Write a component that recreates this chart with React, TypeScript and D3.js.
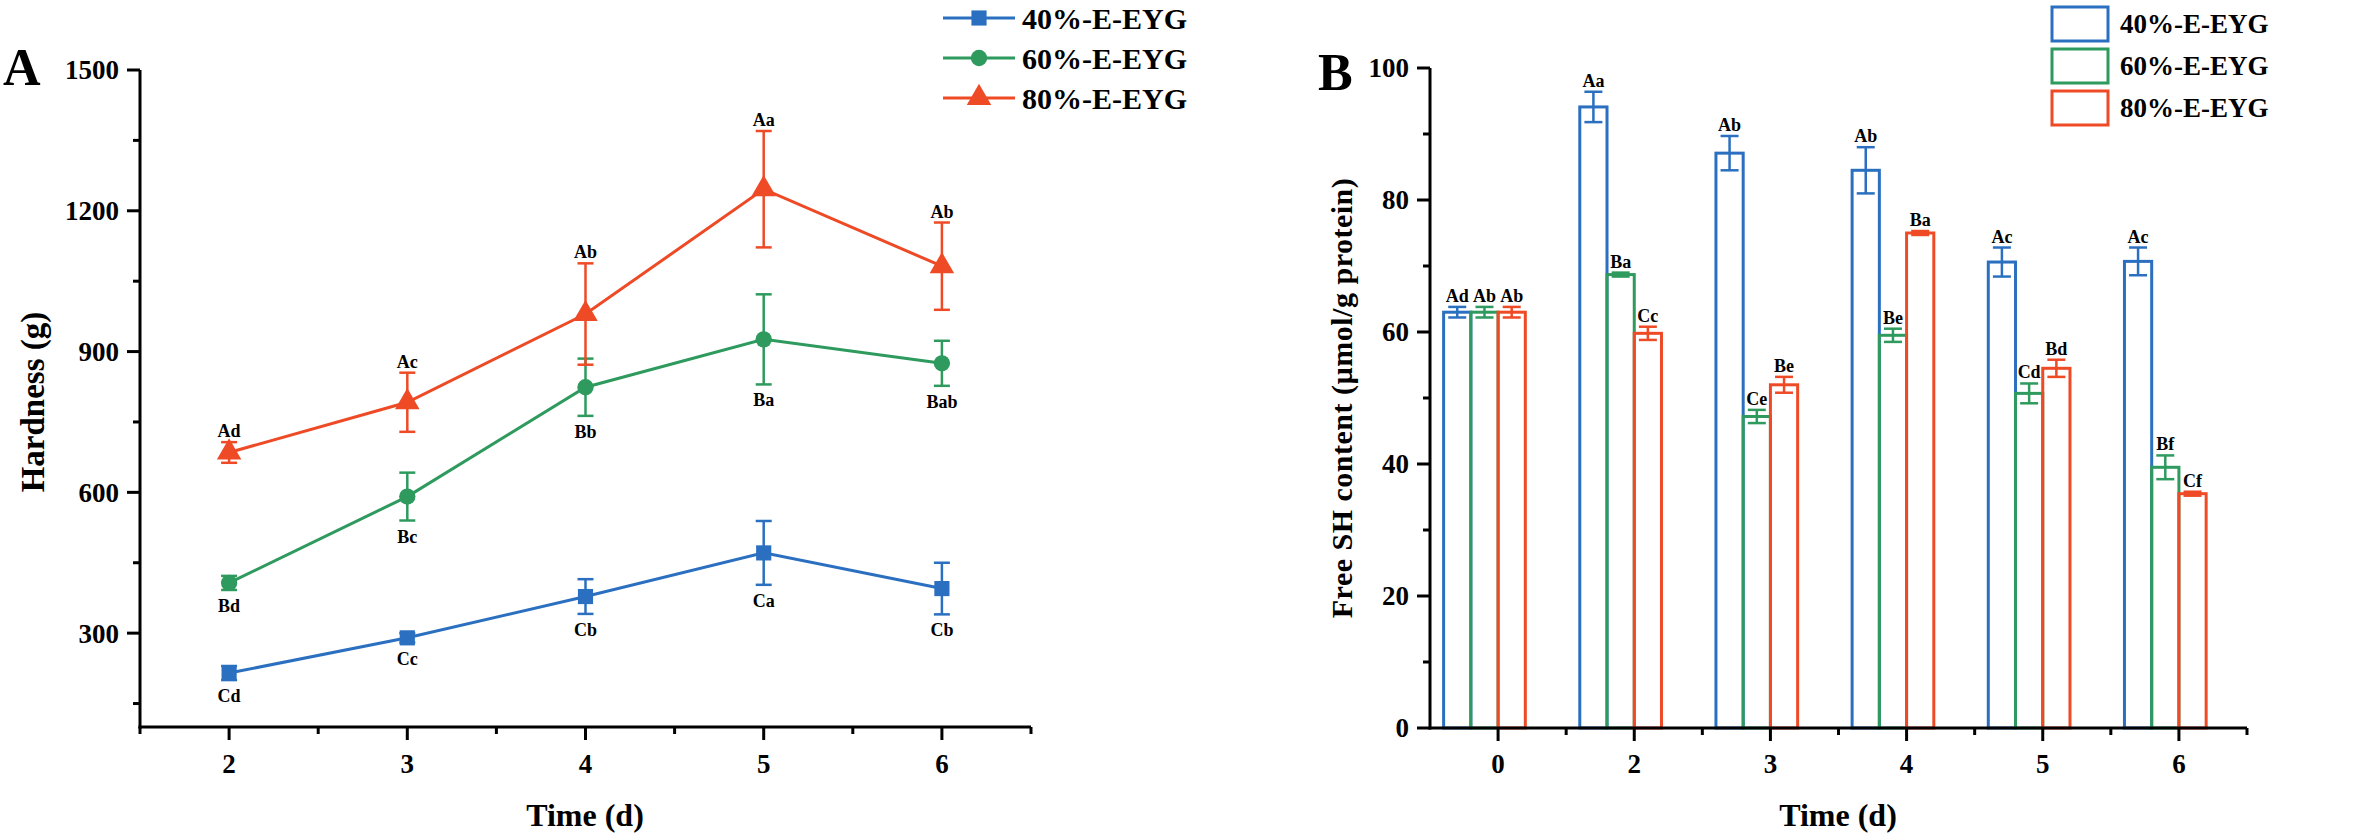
import React from "react";
import * as d3 from "d3";

// ---------- Data: Panel A (Hardness) ----------
const daysA = [2, 3, 4, 5, 6];
const seriesNames = ["40%-E-EYG", "60%-E-EYG", "80%-E-EYG"];
const hard40 = [215, 290, 378, 471, 395];
const hard40Err = [15, 10, 37, 68, 55];
const hard60 = [407, 591, 824, 926, 875];
const hard60Err = [15, 51, 61, 96, 48];
const hard80 = [685, 792, 980, 1246, 1082];
const hard80Err = [22, 63, 108, 124, 93];
const sig40A = ["Cd", "Cc", "Cb", "Ca", "Cb"];
const sig60A = ["Bd", "Bc", "Bb", "Ba", "Bab"];
const sig80A = ["Ad", "Ac", "Ab", "Aa", "Ab"];
const yTicksA = [300, 600, 900, 1200, 1500];

// ---------- Data: Panel B (Free SH) ----------
const daysB = ["0", "2", "3", "4", "5", "6"];
const sh40 = [63.0, 94.1, 87.1, 84.5, 70.6, 70.7];
const sh40Err = [0.8, 2.3, 2.6, 3.5, 2.2, 2.1];
const sh60 = [63.0, 68.7, 47.2, 59.5, 50.7, 39.5];
const sh60Err = [0.8, 0.3, 1.0, 1.0, 1.5, 1.8];
const sh80 = [63.0, 59.8, 52.0, 75.0, 54.5, 35.5];
const sh80Err = [0.8, 1.0, 1.2, 0.3, 1.3, 0.3];
const sig40B = ["Ad", "Aa", "Ab", "Ab", "Ac", "Ac"];
const sig60B = ["Ab", "Ba", "Ce", "Be", "Cd", "Bf"];
const sig80B = ["Ab", "Cc", "Be", "Ba", "Bd", "Cf"];
const yTicksB = [0, 20, 40, 60, 80, 100];

const COLORS = ["#2b70c0", "#2e9a5e", "#ef4a26"];
const FONT = "'Liberation Serif', 'Times New Roman', serif";

export default function App() {
  // Panel A scales
  const xA = d3.scaleLinear().domain([1.5, 6.5]).range([140, 1031]);
  const yA = d3.scaleLinear().domain([100, 1500]).range([727, 70]);
  const minorA = d3.range(150, 1500, 300);
  const xMinorA = d3.range(1.5, 7, 0.5).filter((v) => !Number.isInteger(v));

  const vals = [hard40, hard60, hard80];
  const errs = [hard40Err, hard60Err, hard80Err];
  const sigsA = [sig40A, sig60A, sig80A];
  const symbols = [d3.symbolSquare, d3.symbolCircle, d3.symbolTriangle];
  const symSizes = [230, 210, 260];
  const line = d3
    .line<number>()
    .x((_, i) => xA(daysA[i]))
    .y((d) => yA(d));

  // Panel B scales
  const xB = d3.scaleBand<string>().domain(daysB).range([1430, 2247]).padding(0);
  const bw = xB.bandwidth();
  const barW = bw * 0.2;
  const yB = d3.scaleLinear().domain([0, 100]).range([728, 68]);
  const minorB = d3.range(10, 100, 20);
  const valsB = [sh40, sh60, sh80];
  const errsB = [sh40Err, sh60Err, sh80Err];
  const sigsB = [sig40B, sig60B, sig80B];

  const cap = 8;

  return (
    <svg
      width={2368}
      height={837}
      style={{ position: "absolute", left: 0, top: 0, background: "#fff" }}
      fontFamily={FONT}
    >
      <rect x={0} y={0} width={2368} height={837} fill="#fff" />
      {/* ================= Panel A ================= */}
      <text x={3} y={85} fontSize={52} fontWeight="bold">A</text>
      {/* axes */}
      <line x1={140} y1={yA(1500)} x2={140} y2={728.5} stroke="#000" strokeWidth={3} />
      <line x1={138.5} y1={727} x2={1031} y2={727} stroke="#000" strokeWidth={3} />
      {yTicksA.map((t) => (
        <g key={"ya" + t}>
          <line x1={127} x2={140} y1={yA(t)} y2={yA(t)} stroke="#000" strokeWidth={3} />
          <text x={119} y={yA(t)} dy="0.35em" textAnchor="end" fontSize={27} fontWeight="bold">
            {t}
          </text>
        </g>
      ))}
      {minorA.map((t) => (
        <line key={"yam" + t} x1={133} x2={140} y1={yA(t)} y2={yA(t)} stroke="#000" strokeWidth={3} />
      ))}
      {daysA.map((d) => (
        <g key={"xa" + d}>
          <line x1={xA(d)} x2={xA(d)} y1={727} y2={740} stroke="#000" strokeWidth={3} />
          <text x={xA(d)} y={773} textAnchor="middle" fontSize={27} fontWeight="bold">
            {d}
          </text>
        </g>
      ))}
      {xMinorA.map((d) => (
        <line key={"xam" + d} x1={xA(d)} x2={xA(d)} y1={727} y2={734} stroke="#000" strokeWidth={3} />
      ))}
      <text x={585} y={826} textAnchor="middle" fontSize={32} fontWeight="bold">Time (d)</text>
      <text
        transform={`translate(44,402) rotate(-90)`}
        textAnchor="middle"
        fontSize={33}
        fontWeight="bold"
      >
        Hardness (g)
      </text>

      {/* series */}
      {vals.map((v, s) => (
        <g key={"sa" + s}>
          <path d={line(v) || ""} fill="none" stroke={COLORS[s]} strokeWidth={3} />
          {v.map((val, i) => {
            const x = xA(daysA[i]);
            const yt = yA(val + errs[s][i]);
            const yb = yA(val - errs[s][i]);
            return (
              <g key={i}>
                <line x1={x} x2={x} y1={yt} y2={yb} stroke={COLORS[s]} strokeWidth={2.5} />
                <line x1={x - cap} x2={x + cap} y1={yt} y2={yt} stroke={COLORS[s]} strokeWidth={2.5} />
                <line x1={x - cap} x2={x + cap} y1={yb} y2={yb} stroke={COLORS[s]} strokeWidth={2.5} />
                <path
                  transform={`translate(${x},${yA(val)})`}
                  d={d3.symbol().type(symbols[s]).size(symSizes[s])() || ""}
                  fill={COLORS[s]}
                />
                <text
                  x={x}
                  y={s === 2 ? yt - 5 : yb + 22}
                  textAnchor="middle"
                  fontSize={18}
                  fontWeight="bold"
                >
                  {sigsA[s][i]}
                </text>
              </g>
            );
          })}
        </g>
      ))}

      {/* legend A */}
      {seriesNames.map((n, s) => {
        const y = 18 + s * 40;
        return (
          <g key={"la" + s}>
            <line x1={943} x2={1015} y1={y} y2={y} stroke={COLORS[s]} strokeWidth={3} />
            <path
              transform={`translate(979,${y})`}
              d={d3.symbol().type(symbols[s]).size(symSizes[s])() || ""}
              fill={COLORS[s]}
            />
            <text x={1022} y={y} dy="0.35em" fontSize={30} fontWeight="bold">
              {n}
            </text>
          </g>
        );
      })}

      {/* ================= Panel B ================= */}
      <text x={1318} y={90} fontSize={52} fontWeight="bold">B</text>
      {/* bars */}
      {daysB.map((d, i) => {
        const c = (xB(d) || 0) + bw / 2;
        return (
          <g key={"gb" + d}>
            {valsB.map((v, s) => {
              const x0 = c + (s - 2) * barW;
              const xc = x0 + barW / 2;
              const yt = yB(v[i] + errsB[s][i]);
              const yb = yB(v[i] - errsB[s][i]);
              return (
                <g key={s}>
                  <rect
                    x={x0}
                    y={yB(v[i])}
                    width={barW}
                    height={yB(0) - yB(v[i])}
                    fill="none"
                    stroke={COLORS[s]}
                    strokeWidth={3}
                  />
                  <line x1={xc} x2={xc} y1={yt} y2={yb} stroke={COLORS[s]} strokeWidth={2.5} />
                  <line x1={xc - 9} x2={xc + 9} y1={yt} y2={yt} stroke={COLORS[s]} strokeWidth={2.5} />
                  <line x1={xc - 9} x2={xc + 9} y1={yb} y2={yb} stroke={COLORS[s]} strokeWidth={2.5} />
                  <text x={xc} y={yt - 5} textAnchor="middle" fontSize={18} fontWeight="bold">
                    {sigsB[s][i]}
                  </text>
                </g>
              );
            })}
          </g>
        );
      })}
      {/* axes B */}
      <line x1={1430} y1={yB(100)} x2={1430} y2={729.5} stroke="#000" strokeWidth={3} />
      <line x1={1428.5} y1={728} x2={2247} y2={728} stroke="#000" strokeWidth={3} />
      {yTicksB.map((t) => (
        <g key={"yb" + t}>
          <line x1={1417} x2={1430} y1={yB(t)} y2={yB(t)} stroke="#000" strokeWidth={3} />
          <text x={1409} y={yB(t)} dy="0.35em" textAnchor="end" fontSize={27} fontWeight="bold">
            {t}
          </text>
        </g>
      ))}
      {minorB.map((t) => (
        <line key={"ybm" + t} x1={1423} x2={1430} y1={yB(t)} y2={yB(t)} stroke="#000" strokeWidth={3} />
      ))}
      {daysB.map((d) => {
        const c = (xB(d) || 0) + bw / 2;
        return (
          <g key={"xb" + d}>
            <line x1={c} x2={c} y1={728} y2={741} stroke="#000" strokeWidth={3} />
            <line x1={(xB(d) || 0) + bw} x2={(xB(d) || 0) + bw} y1={728} y2={735} stroke="#000" strokeWidth={3} />
            <text x={c} y={773} textAnchor="middle" fontSize={27} fontWeight="bold">
              {d}
            </text>
          </g>
        );
      })}
      <text x={1838} y={826} textAnchor="middle" fontSize={32} fontWeight="bold">Time (d)</text>
      <text
        transform={`translate(1352,398) rotate(-90)`}
        textAnchor="middle"
        fontSize={30}
        fontWeight="bold"
        letterSpacing={0.5}
      >
        Free SH content (µmol/g protein)
      </text>

      {/* legend B */}
      {seriesNames.map((n, s) => {
        const y = 24 + s * 42;
        return (
          <g key={"lb" + s}>
            <rect x={2052} y={y - 17} width={56} height={34} fill="none" stroke={COLORS[s]} strokeWidth={3} />
            <text x={2120} y={y} dy="0.35em" fontSize={27} fontWeight="bold">
              {n}
            </text>
          </g>
        );
      })}
    </svg>
  );
}
